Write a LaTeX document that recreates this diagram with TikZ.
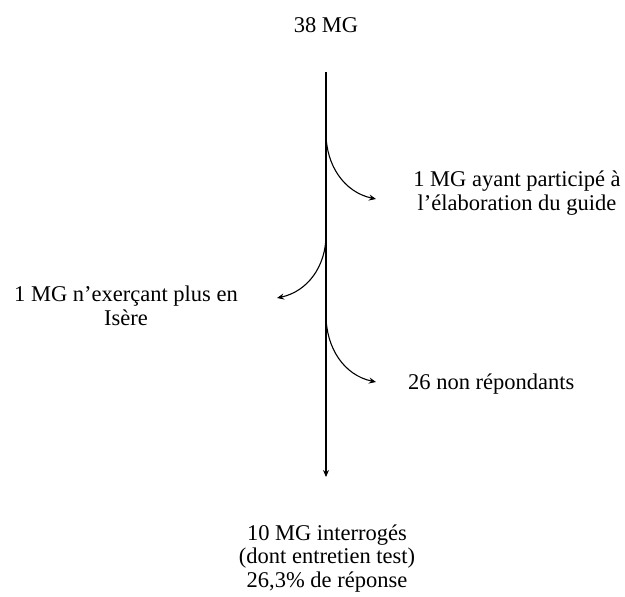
\documentclass[tikz,border=0pt]{standalone}
\usepackage{fontspec}
\setmainfont{Liberation Serif}
\usetikzlibrary{arrows.meta}
\begin{document}
\begin{tikzpicture}[x=1pt,y=-1pt,
  lbl/.style={inner sep=0pt,align=center,font=\fontsize{22.5}{23.5}\selectfont},
  flow/.style={line width=1.1pt,-{Stealth[length=7pt,width=6pt]}},
  branch/.style={line width=1.1pt,-{Stealth[length=7pt,width=6pt]}}]
\useasboundingbox (0,0) rectangle (625,597);
\node[lbl,anchor=base] (top) at (326,32) {38 MG};
\coordinate (s0) at (326,72);
\coordinate (s1) at (326,133);
\coordinate (s2) at (326,235);
\coordinate (s3) at (326,315);
\coordinate (send) at (326,477);
\coordinate (e1) at (376,199);
\coordinate (e2) at (277,298);
\coordinate (e3) at (376,382);
\node[lbl,anchor=base] (t1) at (517,210) {1 MG ayant participé à\\l’élaboration du guide};
\node[lbl,anchor=base] (t2) at (126,325) {1 MG n’exerçant plus en\\Isère};
\node[lbl,anchor=base west] (t3) at (408,389) {26 non répondants};
\node[lbl,anchor=base] (t4) at (327,587) {10 MG interrogés\\(dont entretien test)\\26,3\% de réponse};
\draw[flow] (s0) -- (send);
\draw[branch] (s1) to[out=-90,in=168] (e1);
\draw[branch] (s2) to[out=-90,in=12] (e2);
\draw[branch] (s3) to[out=-90,in=168] (e3);
\end{tikzpicture}
\end{document}
